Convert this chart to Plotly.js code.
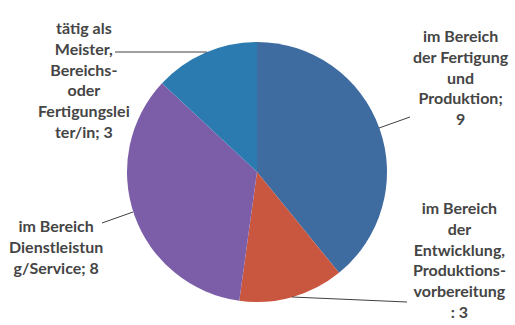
<!DOCTYPE html>
<html>
<head>
<meta charset="utf-8">
<script src="https://cdn.plot.ly/plotly-3.0.1.min.js"></script>
<style>html,body{margin:0;padding:0;background:#fff;}#chart{width:515px;height:325px;}</style>
</head>
<body>
<div id="chart"></div>
<script>
// Data
const categories = [
  "im Bereich der Fertigung und Produktion",
  "im Bereich der Entwicklung, Produktionsvorbereitung",
  "im Bereich Dienstleistung/Service",
  "tätig als Meister, Bereichs- oder Fertigungsleiter/in"
];
const values = [9, 3, 8, 3];
const colors = ["#3e6ba0", "#c9563f", "#7c5ea8", "#2b7bb0"];
// Wrapped label lines as shown in the chart
const labelLines = [
  ["im Bereich", "der Fertigung", "und", "Produktion;", "9"],
  ["im Bereich", "der", "Entwicklung,", "Produktions-", "vorbereitung", ": 3"],
  ["im Bereich", "Dienstleistun", "g/Service; 8"],
  ["tätig als", "Meister,", "Bereichs-", "oder", "Fertigungslei", "ter/in; 3"]
];

const W = 515, H = 325;
const px = (x) => x / W;
const py = (y) => 1 - y / H;

// label centers (pixels)
const labelPos = [[461, 77], [459, 259], [56, 246], [84, 79]];
// leader lines (pixels)
const leaders = [
  [[410, 117], [379, 128]],
  [[407, 302], [292, 297]],
  [[102, 223], [133, 212]],
  [[115, 52], [207, 52]]
];

const trace = {
  type: "pie",
  labels: categories,
  values: values,
  sort: false,
  direction: "clockwise",
  rotation: 0,
  textinfo: "none",
  hoverinfo: "label+value",
  marker: { colors: colors, line: { width: 0 } },
  domain: { x: [px(127), px(387)], y: [py(302), py(42)] },
  showlegend: false
};

const annotations = labelLines.map((lines, i) => ({
  xref: "paper", yref: "paper",
  x: px(labelPos[i][0]), y: py(labelPos[i][1]),
  xanchor: "center", yanchor: "middle",
  text: lines.join("<br>"),
  showarrow: false,
  align: "center",
  font: { family: "Lato, 'Open Sans', sans-serif", size: 16, color: "#454545", weight: "bold" }
}));

const shapes = leaders.map(l => ({
  type: "line", xref: "paper", yref: "paper",
  x0: px(l[0][0]), y0: py(l[0][1]), x1: px(l[1][0]), y1: py(l[1][1]),
  line: { color: "#404040", width: 1 }
}));

Plotly.newPlot("chart", [trace], {
  width: W, height: H,
  margin: { l: 0, r: 0, t: 0, b: 0 },
  paper_bgcolor: "#fff",
  annotations: annotations,
  shapes: shapes
}, { staticPlot: true });
</script>
</body>
</html>
